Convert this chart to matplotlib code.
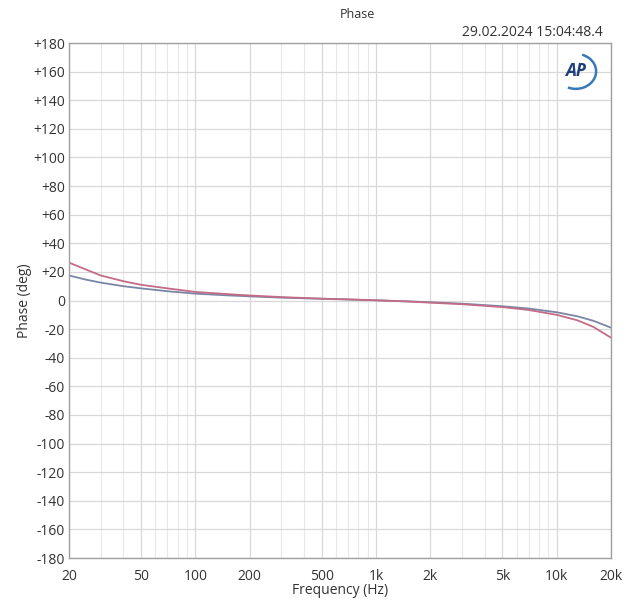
import matplotlib.pyplot as plt
import numpy as np
from matplotlib.patches import Arc
from matplotlib.ticker import FixedLocator, NullFormatter

# Frequency points (Hz)
freq = [20, 25, 30, 40, 50, 70, 100, 150, 200, 300, 500, 700,
        1000, 1500, 2000, 3000, 5000, 7000, 10000, 13000, 16000, 20000]

# Phase (deg) for the two channels
phase_red = [26.5, 21.5, 17.5, 13.5, 11.0, 8.5, 6.0, 4.5, 3.5, 2.4, 1.3, 0.8,
             0.2, -0.7, -1.5, -2.6, -4.6, -6.6, -10.0, -13.8, -18.5, -26.0]
phase_blue = [17.5, 14.5, 12.5, 10.0, 8.5, 6.5, 4.8, 3.6, 2.9, 2.0, 1.2, 0.7,
              0.1, -0.6, -1.2, -2.2, -4.0, -5.6, -8.2, -11.0, -14.2, -19.0]

x_ticks = [20, 50, 100, 200, 500, 1000, 2000, 5000, 10000, 20000]
x_labels = ['20', '50', '100', '200', '500', '1k', '2k', '5k', '10k', '20k']
y_ticks = list(range(-180, 181, 20))
y_labels = [('+%d' % v if v > 0 else str(v)) for v in y_ticks]

minor_x = [30, 40, 60, 70, 80, 90, 300, 400, 600, 700, 800, 900,
           3000, 4000, 6000, 7000, 8000, 9000]

plt.rcParams['font.family'] = ['Open Sans', 'DejaVu Sans']

fig = plt.figure(figsize=(6.29, 6.0), dpi=100)
ax = fig.add_axes([0.1097, 0.07, 0.8617, 0.8583])

ax.set_xscale('log')
ax.set_xlim(20, 20000)
ax.set_ylim(-180, 180)

ax.xaxis.set_major_locator(FixedLocator(x_ticks))
ax.xaxis.set_minor_locator(FixedLocator(minor_x))
ax.xaxis.set_minor_formatter(NullFormatter())
ax.set_xticks(x_ticks)
ax.set_xticklabels(x_labels)
ax.set_yticks(y_ticks)
ax.set_yticklabels(y_labels)

ax.grid(True, which='major', color='#d8d8d8', linewidth=0.9)
ax.grid(True, which='minor', axis='x', color='#e8e8e8', linewidth=0.8)
ax.set_axisbelow(True)

ax.tick_params(axis='both', which='both', length=0, labelsize=10,
               colors='#333333', pad=3)
ax.tick_params(axis='x', pad=8)

for s in ax.spines.values():
    s.set_color('#a0a0a0')
    s.set_linewidth(1.0)

ax.plot(freq, phase_blue, color='#7a86a6', linewidth=1.3)
ax.plot(freq, phase_red, color='#c46b86', linewidth=1.3)

ax.set_xlabel('Frequency (Hz)', fontsize=10, color='#333333', labelpad=-1)
ax.set_ylabel('Phase (deg)', fontsize=10, color='#333333', labelpad=1)

fig.text(0.568, 0.976, 'Phase', ha='center', va='center', fontsize=9, color='#333333')
fig.text(0.959, 0.945, '29.02.2024 15:04:48.4', ha='right', va='center',
         fontsize=10, color='#333333')

# AP logo
ax.text(0.935, 0.945, 'AP', transform=ax.transAxes, ha='center', va='center',
        fontsize=12.5, fontweight='bold', fontstyle='italic', color='#1f3f7a')
arc = Arc((0.935, 0.945), 0.075, 0.068, angle=0, theta1=-115, theta2=70,
          transform=ax.transAxes, color='#3a78b8', linewidth=1.8)
ax.add_patch(arc)

fig.savefig('out.png', dpi=100)
